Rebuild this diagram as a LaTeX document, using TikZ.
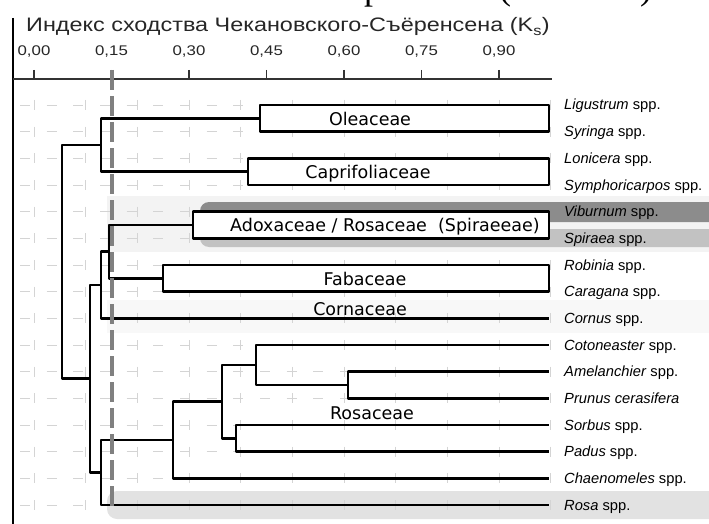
\documentclass[tikz,border=0pt]{standalone}
\usepackage{fontspec}
\setmainfont{Liberation Sans}
\newfontfamily\cladefont{DejaVu Sans}
\newfontfamily\capfont{Liberation Serif}
\newfontfamily\titlefont[FakeStretch=1.2]{Liberation Sans}
\usetikzlibrary{positioning}

\definecolor{groupbg}{HTML}{F3F3F3}
\definecolor{cornbg}{HTML}{F8F8F8}
\definecolor{vibbg}{HTML}{8C8C8C}
\definecolor{spibg}{HTML}{C2C2C2}
\definecolor{rosabg}{HTML}{E2E2E2}
\definecolor{gridgray}{HTML}{D4D4D4}

\tikzset{
  branch/.style={line width=2.8pt, line join=round},
  cladebox/.style={branch, fill=white},
  cladetext/.style={anchor=base, inner sep=0pt, font=\cladefont\fontsize{17.5}{20}\selectfont},
  leaftext/.style={anchor=base west, inner sep=0pt, font=\fontsize{14.7}{17}\selectfont},
  ticktext/.style={anchor=base, inner sep=0pt, font=\titlefont\fontsize{14}{17}\selectfont, text=black!85},
  captext/.style={anchor=base, inner sep=0pt, font=\capfont\fontsize{36}{40}\selectfont},
  gridline/.style={gridgray, line width=0.8pt, dash pattern=on 10pt off 16.67pt},
  cutline/.style={gray, line width=3.5pt, dash pattern=on 20pt off 6pt}
}

\begin{document}
\begin{tikzpicture}[x=1pt,y=-1pt]
\useasboundingbox (0,0) rectangle (709,524);

\node[captext] (capa) at (373,-0.5) {р};
\node[captext] (capb) at (505,-0.5) {(};
\node[captext] (capc) at (646,-0.5) {)};

\fill[groupbg] (107,196) rectangle (720,252);
\fill[cornbg] (107,300) rectangle (720,333);
\fill[rosabg, rounded corners=10pt] (107,491) rectangle (740,519);

\foreach \k in {0,...,10}
  \draw[gridline] ({34+51.67*\k},100) -- ({34+51.67*\k},524);
\foreach \i in {0,...,15}
  \draw[gridline] (20,{105+26.67*\i}) -- (549,{105+26.67*\i});

\fill[vibbg, rounded corners=9pt] (200,202) rectangle (740,222);
\fill[spibg, rounded corners=9pt] (200,229) rectangle (740,247);

\draw[line width=1.2pt] (13,18) -- (13,524);

\node[anchor=base, inner sep=0pt, font=\titlefont\fontsize{19.5}{22}\selectfont, text=black!85] (title) at (288,32)
  {Индекс сходства Чекановского-Съёренсена (K\textsubscript{s})};
\draw[line width=1.5pt, black!80] (13,79) -- (552,79);
\foreach \k/\v in {0/{0,00},1/{0,15},2/{0,30},3/{0,45},4/{0,60},5/{0,75},6/{0,90}} {
  \draw[line width=1.5pt, black!80] ({34+77.5*\k},70) -- ({34+77.5*\k},79);
  \node[ticktext] (tick\k) at ({34+77.5*\k},56) {\v};
}

\foreach \name/\genus/\rest [count=\i from 0] in {
  ligustrum/Ligustrum/spp., syringa/Syringa/spp., lonicera/Lonicera/spp.,
  symphoricarpos/Symphoricarpos/spp., viburnum/Viburnum/spp., spiraea/Spiraea/spp.,
  robinia/Robinia/spp., caragana/Caragana/spp., cornus/Cornus/spp.,
  cotoneaster/Cotoneaster/spp., amelanchier/Amelanchier/spp., prunus/Prunus cerasifera/,
  sorbus/Sorbus/spp., padus/Padus/spp., chaenomeles/Chaenomeles/spp., rosa/Rosa/spp.} {
  \coordinate (\name) at (549,{105+26.67*\i});
  \node[leaftext] (\name-l) at (564,{110+26.67*\i}) {\textit{\genus} \rest};
}

\coordinate (olea) at (260,118.3);
\coordinate (capri) at (248,171.7);
\coordinate (oc) at (101,145);
\coordinate (adox) at (193,225);
\coordinate (faba) at (163,278.3);
\coordinate (af) at (109,251.7);
\coordinate (afc) at (101,285);
\coordinate (amel) at (348,385);
\coordinate (cot) at (256,365);
\coordinate (sorb) at (236,438.4);
\coordinate (cs) at (222,401.7);
\coordinate (chae) at (173,440);
\coordinate (rosac) at (101,472.5);
\coordinate (mid) at (90,378.8);
\coordinate (root) at (62,262);

\draw[cladebox] (olea |- ligustrum) rectangle (syringa);
\draw[cladebox] (capri |- lonicera) rectangle (symphoricarpos);
\draw[cladebox] (adox |- viburnum) rectangle (spiraea);
\draw[cladebox] (faba |- robinia) rectangle (caragana);

\draw[branch] (root) |- (oc);
\draw[branch] (root) |- (mid);
\draw[branch] (oc) |- (olea);
\draw[branch] (oc) |- (capri);
\draw[branch] (mid) |- (afc);
\draw[branch] (mid) |- (rosac);
\draw[branch] (afc) |- (af);
\draw[branch] (afc) |- (cornus);
\draw[branch] (af) |- (adox);
\draw[branch] (af) |- (faba);
\draw[branch] (rosac) |- (chae);
\draw[branch] (rosac) |- (rosa);
\draw[branch] (chae) |- (cs);
\draw[branch] (chae) |- (chaenomeles);
\draw[branch] (cs) |- (cot);
\draw[branch] (cs) |- (sorb);
\draw[branch] (cot) |- (cotoneaster);
\draw[branch] (cot) |- (amel);
\draw[branch] (amel) |- (amelanchier);
\draw[branch] (amel) |- (prunus);
\draw[branch] (sorb) |- (sorbus);
\draw[branch] (sorb) |- (padus);

\node[cladetext] (oleaceae) at (370,125) {Oleaceae};
\node[cladetext] (caprifoliaceae) at (368,178) {Caprifoliaceae};
\node[cladetext] (adoxaceae) at (385,231.5) {Adoxaceae / Rosaceae\ \ (Spiraeeae)};
\node[cladetext] (fabaceae) at (365,285) {Fabaceae};
\node[cladetext] (cornaceae) at (360,315) {Cornaceae};
\node[cladetext] (rosaceae) at (372,419) {Rosaceae};

\draw[cutline] (112,70) -- (112,512);
\end{tikzpicture}
\end{document}
